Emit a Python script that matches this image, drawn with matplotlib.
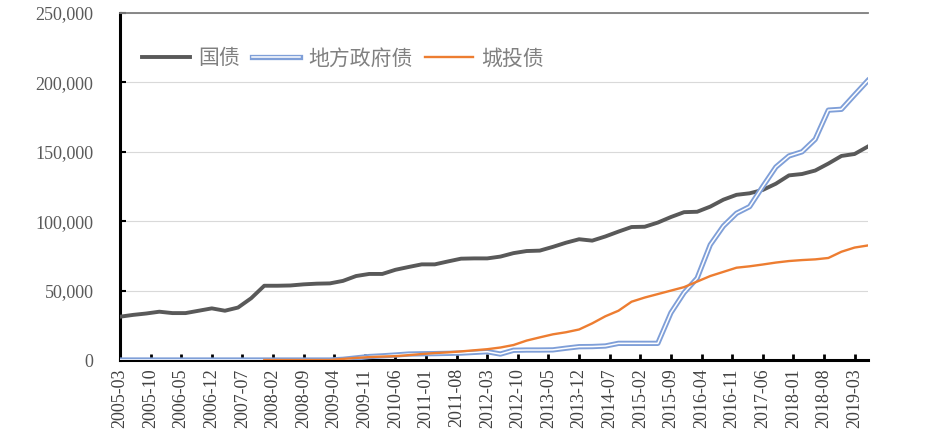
import matplotlib
matplotlib.use("Agg")
import matplotlib.pyplot as plt
import matplotlib.patheffects as pe
from matplotlib.ticker import FuncFormatter

# Quarterly observations (months since 2005-03)
months = list(range(0, 172, 3))

gov_bond = [31200, 32500, 33500, 34800, 33800, 33800, 35500, 37200, 35500, 37800,
            44500, 53500, 53500, 53700, 54500, 55000, 55200, 57000, 60500, 62000,
            62000, 65000, 67000, 68900, 68900, 71000, 73000, 73200, 73200, 74500,
            77000, 78500, 78800, 81500, 84500, 87000, 86000, 89000, 92500, 95800,
            96000, 99000, 103000, 106500, 106800, 110500, 115500, 119000, 120100, 122500,
            127000, 133000, 134000, 136500, 141500, 147000, 148400, 153700]

local_gov_bond = [0, 0, 0, 0, 0, 0, 0, 0, 0, 0,
                  0, 0, 0, 0, 0, 0, 0, 500, 1500, 2500,
                  3000, 3600, 4300, 4500, 4600, 4800, 5000, 5500, 6000, 4300,
                  7000, 7200, 7200, 7300, 8500, 9600, 9700, 10100, 12000, 12000,
                  12000, 12000, 34000, 48500, 59000, 83000, 96500, 105700, 110500, 125000,
                  139000, 147000, 150000, 159000, 180000, 180600, 191000, 201200]

# 城投债 series starts at month 33 (2008-01)
lgfv_months = list(range(33, 172, 3))
lgfv_bond = [0, 0, 0, 0, 0, 0, 800, 1500, 2100, 2500,
             2800, 3500, 4300, 5000, 5500, 6200, 7000, 7800, 9000, 10800,
             14000, 16300, 18500, 20000, 22000, 26400, 31500, 35500, 42000, 45000,
             47500, 50000, 52500, 56500, 60500, 63500, 66500, 67500, 68800, 70200,
             71300, 72000, 72500, 73500, 78000, 81000, 82500]

tick_labels = ["2005-03", "2005-10", "2006-05", "2006-12", "2007-07", "2008-02",
               "2008-09", "2009-04", "2009-11", "2010-06", "2011-01", "2011-08",
               "2012-03", "2012-10", "2013-05", "2013-12", "2014-07", "2015-02",
               "2015-09", "2016-04", "2016-11", "2017-06", "2018-01", "2018-08",
               "2019-03"]
tick_pos = [7 * i for i in range(len(tick_labels))]

series_names = ["国债", "地方政府债", "城投债"]

fig = plt.figure(figsize=(9.3, 4.47), dpi=100)
ax = fig.add_axes([0.129, 0.1946, 0.804, 0.7764])

ax.plot(months, gov_bond, color="#595959", lw=2.8, label=series_names[0],
        solid_joinstyle="round", zorder=3)
ax.plot(months, local_gov_bond, color="white", lw=1.1, label=series_names[1],
        path_effects=[pe.Stroke(linewidth=3.8, foreground="#7F9FD8"), pe.Normal()],
        zorder=4)
ax.plot(lgfv_months, lgfv_bond, color="#ED7D31", lw=1.7, label=series_names[2], zorder=5)

ax.set_xlim(0, 171)
ax.set_ylim(0, 250000)
ax.set_yticks(range(0, 250001, 50000))
ax.yaxis.set_major_formatter(FuncFormatter(lambda v, p: f"{int(v):,}"))
ax.set_xticks(tick_pos)
ax.set_xticklabels(tick_labels, rotation=90)

ax.grid(axis="y", color="#D9D9D9", lw=0.8)
ax.set_axisbelow(True)

ax.spines["right"].set_visible(False)
ax.spines["top"].set_color("#7F7F7F")
ax.spines["top"].set_linewidth(1.3)
ax.spines["left"].set_color("black")
ax.spines["left"].set_linewidth(2.2)
ax.spines["bottom"].set_color("black")
ax.spines["bottom"].set_linewidth(2.2)

ax.tick_params(axis="y", direction="in", length=4, width=1.5, pad=19,
               labelsize=13, labelcolor="#595959")
ax.tick_params(axis="x", direction="in", length=4, width=2, pad=6,
               labelsize=13, labelcolor="#404040")
for lab in ax.get_xticklabels() + ax.get_yticklabels():
    lab.set_fontfamily("Liberation Serif")

leg = ax.legend(loc="upper left", bbox_to_anchor=(0.004, 0.955), ncol=3, frameon=False,
                handlelength=2.3, handletextpad=0.4, columnspacing=0.6,
                prop={"family": ["Noto Sans CJK SC", "DejaVu Sans"], "size": 15})
for t in leg.get_texts():
    t.set_color("#808080")

fig.savefig("out.png", dpi=100)
